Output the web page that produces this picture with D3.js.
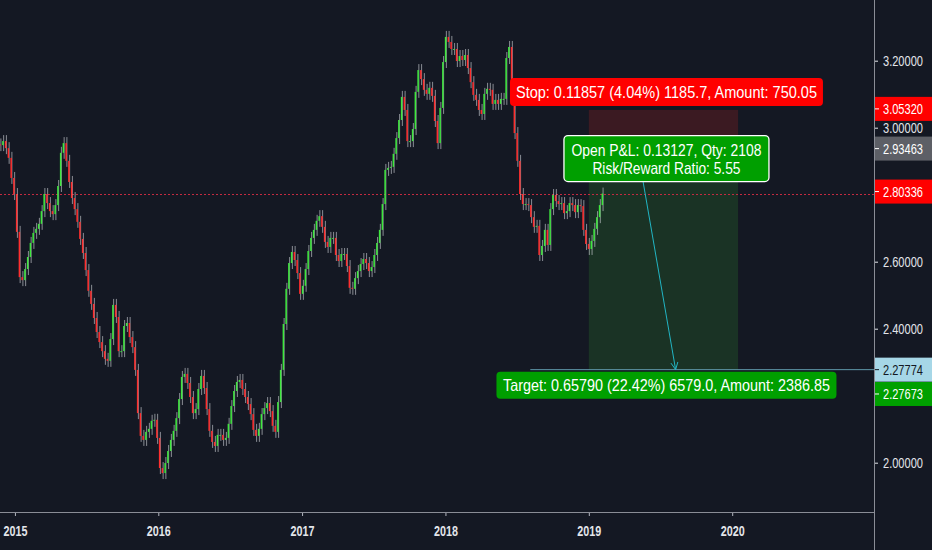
<!DOCTYPE html>
<html>
<head>
<meta charset="utf-8">
<script src="https://cdn.jsdelivr.net/npm/d3@7"></script>
<style>
  html, body { margin: 0; padding: 0; background: #141823; overflow: hidden; }
  svg { display: block; }
  text { font-family: "Liberation Sans", Arial, sans-serif; }
</style>
</head>
<body>
<div id="wrapper"></div>
<script>
// weekly closes, first candle on the week of 2014-11-24
const firstWeek = "2014-11-24"
const firstOpen = 2.95
const closes = [
  2.948, 2.960, 2.939, 2.910, 2.850, 2.802, 2.689, 2.554, 2.545, 2.578,
  2.614, 2.656, 2.686, 2.698, 2.713, 2.751, 2.802, 2.775, 2.751, 2.742,
  2.769, 2.826, 2.925, 2.954, 2.901, 2.838, 2.790, 2.757, 2.719, 2.668,
  2.626, 2.575, 2.513, 2.474, 2.432, 2.390, 2.360, 2.333, 2.310, 2.304,
  2.369, 2.471, 2.435, 2.333, 2.333, 2.408, 2.417, 2.375, 2.345, 2.277,
  2.148, 2.080, 2.068, 2.092, 2.101, 2.125, 2.128, 2.074, 1.984, 1.969,
  1.999, 2.035, 2.068, 2.095, 2.133, 2.190, 2.256, 2.265, 2.238, 2.196,
  2.148, 2.160, 2.220, 2.259, 2.223, 2.160, 2.095, 2.062, 2.050, 2.083,
  2.083, 2.068, 2.074, 2.116, 2.169, 2.214, 2.241, 2.247, 2.220, 2.196,
  2.175, 2.145, 2.098, 2.080, 2.101, 2.145, 2.163, 2.178, 2.154, 2.110,
  2.092, 2.181, 2.277, 2.414, 2.519, 2.596, 2.629, 2.605, 2.566, 2.504,
  2.528, 2.578, 2.632, 2.671, 2.695, 2.722, 2.736, 2.704, 2.659, 2.644,
  2.671, 2.671, 2.620, 2.602, 2.623, 2.623, 2.587, 2.522, 2.519, 2.551,
  2.572, 2.593, 2.608, 2.596, 2.572, 2.584, 2.620, 2.656, 2.695, 2.772,
  2.874, 2.880, 2.883, 2.922, 2.969, 3.023, 3.092, 3.053, 2.960, 2.960,
  2.996, 3.107, 3.172, 3.145, 3.113, 3.101, 3.119, 3.095, 3.020, 2.954,
  3.059, 3.196, 3.271, 3.256, 3.235, 3.235, 3.199, 3.214, 3.202, 3.217,
  3.178, 3.136, 3.098, 3.083, 3.053, 3.041, 3.101, 3.116, 3.113, 3.071,
  3.083, 3.071, 3.086, 3.086, 3.208, 3.241, 3.086, 2.984, 2.901, 2.802,
  2.772, 2.772, 2.769, 2.733, 2.704, 2.707, 2.620, 2.647, 2.695, 2.650,
  2.757, 2.799, 2.781, 2.772, 2.775, 2.745, 2.751, 2.775, 2.769, 2.748,
  2.769, 2.766, 2.695, 2.653, 2.638, 2.662, 2.698, 2.733, 2.769, 2.80336
]

const yearTicks = ["2015", "2016", "2017", "2018", "2019", "2020"]
const priceTicks = [2.0, 2.4, 2.6, 3.0, 3.2]

const lastPrice = 2.80336
const entryPrice = 2.93463
const stopPrice = 3.05320
const targetPrice = 2.27673
const projectedPrice = 2.27774
const positionDates = ["2019-01-01", "2020-01-16"]
const arrowDates = ["2019-05-05", "2019-08-10"]
const rayStart = "2018-08-05"

const stopText = "Stop: 0.11857 (4.04%) 1185.7, Amount: 750.05"
const pnlText = ["Open P&L: 0.13127, Qty: 2108", "Risk/Reward Ratio: 5.55"]
const targetText = "Target: 0.65790 (22.42%) 6579.0, Amount: 2386.85"

const parse = d3.utcParse("%Y-%m-%d")

const dimensions = {
  width: 932,
  height: 550,
  plotRight: 874,
  plotBottom: 512
}

const svg = d3.select("#wrapper")
  .append("svg")
    .attr("width", dimensions.width)
    .attr("height", dimensions.height)

svg.append("rect")
  .attr("width", dimensions.width)
  .attr("height", dimensions.height)
  .attr("fill", "#141823")

const xScale = d3.scaleUtc()
  .domain([parse("2014-11-24"), parse("2020-12-27")])
  .range([0, dimensions.plotRight])

const yScale = d3.scaleLinear()
  .domain([1.8528, 3.3812])
  .range([dimensions.plotBottom, 0])

const candles = closes.map((c, i) => ({
  date: d3.utcDay.offset(parse(firstWeek), 7 * i),
  open: i === 0 ? firstOpen : closes[i - 1],
  close: c
}))

// squeeze a text horizontally to a given width, keeping its anchor at x
function squeeze(sel, width, x) {
  sel.each(function() {
    const t = d3.select(this)
    const natural = this.getComputedTextLength()
    t.attr("x", 0)
      .attr("transform", `translate(${x}, 0) scale(${width / natural}, 1)`)
  })
}

const plot = svg.append("g")

// position zones
const zx0 = xScale(parse(positionDates[0]))
const zx1 = xScale(parse(positionDates[1]))
plot.append("rect")
  .attr("x", zx0)
  .attr("width", zx1 - zx0)
  .attr("y", yScale(stopPrice))
  .attr("height", yScale(entryPrice) - yScale(stopPrice))
  .attr("fill", "#3b1a22")
plot.append("rect")
  .attr("x", zx0)
  .attr("width", zx1 - zx0)
  .attr("y", yScale(entryPrice))
  .attr("height", yScale(targetPrice) - yScale(entryPrice))
  .attr("fill", "#1a3325")

// last price line
const lastY = Math.round(yScale(lastPrice)) + 0.5
plot.append("line")
  .attr("x1", 0)
  .attr("x2", dimensions.plotRight)
  .attr("y1", lastY)
  .attr("y2", lastY)
  .attr("stroke", "#c42a40")
  .attr("stroke-width", 1)
  .attr("stroke-dasharray", "2 2")
  .attr("shape-rendering", "crispEdges")

// candles
const candleGroup = plot.append("g")
candleGroup.selectAll("line")
  .data(candles)
  .enter().append("line")
    .attr("x1", d => xScale(d.date) + 0.9)
    .attr("x2", d => xScale(d.date) + 0.9)
    .attr("y1", d => yScale(Math.max(d.open, d.close)) - 6)
    .attr("y2", d => yScale(Math.min(d.open, d.close)) + 6)
    .attr("stroke", "#c4c6cc")
    .attr("stroke-opacity", 0.75)
    .attr("stroke-width", 0.9)

candleGroup.selectAll("rect")
  .data(candles)
  .enter().append("rect")
    .attr("x", d => xScale(d.date) - 0.6)
    .attr("width", 1.5)
    .attr("y", d => yScale(Math.max(d.open, d.close)))
    .attr("height", d => Math.max(1, Math.abs(yScale(d.open) - yScale(d.close))))
    .attr("fill", d => d.close >= d.open ? "#3ee83e" : "#ff2e2e")

// projected price ray
plot.append("line")
  .attr("x1", xScale(parse(rayStart)))
  .attr("x2", dimensions.plotRight)
  .attr("y1", yScale(projectedPrice))
  .attr("y2", yScale(projectedPrice))
  .attr("stroke", "#5f97a8")
  .attr("stroke-width", 1)

// arrow
const ax0 = xScale(parse(arrowDates[0])), ay0 = yScale(entryPrice)
const ax1 = xScale(parse(arrowDates[1])), ay1 = yScale(projectedPrice)
plot.append("line")
  .attr("x1", ax0).attr("y1", ay0)
  .attr("x2", ax1).attr("y2", ay1)
  .attr("stroke", "#22b5c4")
  .attr("stroke-width", 1)
const ang = Math.atan2(ay1 - ay0, ax1 - ax0)
const headLen = 8
plot.append("path")
  .attr("d", `M${ax1 - headLen * Math.cos(ang - 0.45)},${ay1 - headLen * Math.sin(ang - 0.45)}L${ax1},${ay1}L${ax1 - headLen * Math.cos(ang + 0.45)},${ay1 - headLen * Math.sin(ang + 0.45)}`)
  .attr("fill", "none")
  .attr("stroke", "#22b5c4")
  .attr("stroke-width", 1)

// labels on the position tool
const zoneCenter = (zx0 + zx1) / 2 + 3

function labelBox(cx, top, w, h, fill, border) {
  plot.append("rect")
    .attr("x", cx - w / 2)
    .attr("y", top)
    .attr("width", w)
    .attr("height", h)
    .attr("rx", 4)
    .attr("fill", fill)
    .attr("stroke", border || "none")
    .attr("stroke-width", border ? 1.3 : 0)
}

function labelText(cx, cy, str, len, size) {
  plot.append("text")
    .attr("x", cx)
    .attr("y", cy)
    .attr("dy", "0.36em")
    .attr("text-anchor", "middle")
    .attr("fill", "#ffffff")
    .attr("font-size", size)
    .attr("textLength", len)
    .attr("lengthAdjust", "spacingAndGlyphs")
    .text(str)
}

const stopTop = yScale(stopPrice) - 32
labelBox(zoneCenter, stopTop, 313, 28, "#ff0000")
labelText(zoneCenter, stopTop + 14, stopText, 301, 16.5)

const pnlBottom = yScale(lastPrice) - 12
labelBox(zoneCenter, pnlBottom - 46, 205, 46, "#009f00", "#ffffff")
labelText(zoneCenter, pnlBottom - 32, pnlText[0], 190, 16.5)
labelText(zoneCenter, pnlBottom - 14, pnlText[1], 148, 16.5)

const targetTop = yScale(projectedPrice) + 2
labelBox(zoneCenter, targetTop, 340, 27, "#009f00")
labelText(zoneCenter, targetTop + 13.5, targetText, 327, 16.5)

// axes
const xAxis = d3.axisBottom(xScale)
  .tickValues(yearTicks.map(y => parse(y + "-01-01")))
  .tickFormat(d3.utcFormat("%Y"))
  .tickSize(4)
  .tickPadding(9)

const xAxisGroup = svg.append("g")
  .attr("transform", `translate(0, ${dimensions.plotBottom})`)
  .call(xAxis)
xAxisGroup.select(".domain").remove()
xAxisGroup.selectAll("line").attr("stroke", "#b2b5be")
xAxisGroup.selectAll("text")
  .attr("fill", "#e3e5ea")
  .attr("font-size", 15)
  .attr("font-weight", "bold")
  .attr("font-family", "Liberation Sans, Arial, sans-serif")
  .call(squeeze, 24, 0)

const yAxis = d3.axisRight(yScale)
  .tickValues(priceTicks)
  .tickFormat(d3.format(".5f"))
  .tickSize(4)
  .tickPadding(5)

const yAxisGroup = svg.append("g")
  .attr("transform", `translate(${dimensions.plotRight}, 0)`)
  .call(yAxis)
yAxisGroup.select(".domain").remove()
yAxisGroup.selectAll("line").attr("stroke", "#e3e5ea")
yAxisGroup.selectAll("text")
  .attr("fill", "#e3e5ea")
  .attr("font-size", 15)
  .attr("font-family", "Liberation Sans, Arial, sans-serif")
  .call(squeeze, 40, 9)

// axis borders
svg.append("line")
  .attr("x1", 0).attr("x2", dimensions.plotRight)
  .attr("y1", dimensions.plotBottom + 0.5).attr("y2", dimensions.plotBottom + 0.5)
  .attr("stroke", "#8a8d96")
svg.append("line")
  .attr("x1", dimensions.plotRight + 0.5).attr("x2", dimensions.plotRight + 0.5)
  .attr("y1", 0).attr("y2", dimensions.height)
  .attr("stroke", "#8a8d96")

// price markers on the right axis
const priceMarkers = [
  { value: stopPrice, fill: "#ff0000", color: "#ffffff", shift: -1 },
  { value: entryPrice, fill: "#5d5f66", color: "#ffffff", shift: -1 },
  { value: lastPrice, fill: "#ff0000", color: "#ffffff", shift: -2 },
  { value: projectedPrice, fill: "#a6d7e7", color: "#131722", shift: 0 },
  { value: targetPrice, fill: "#00a000", color: "#ffffff", shift: 24 }
]

const markerGroup = svg.append("g")
  .selectAll("g")
  .data(priceMarkers)
  .enter().append("g")
    .attr("transform", d => `translate(${dimensions.plotRight + 1}, ${yScale(d.value) + d.shift})`)

markerGroup.append("rect")
  .attr("x", 0)
  .attr("y", -12)
  .attr("width", dimensions.width - dimensions.plotRight)
  .attr("height", 24)
  .attr("fill", d => d.fill)

markerGroup.append("line")
  .attr("x1", 0).attr("x2", 4)
  .attr("stroke", d => d.color)

markerGroup.append("text")
  .attr("dy", "0.35em")
  .attr("fill", d => d.color)
  .attr("font-size", 15)
  .text(d => d3.format(".5f")(d.value))
  .call(squeeze, 40, 8)
</script>
</body>
</html>
